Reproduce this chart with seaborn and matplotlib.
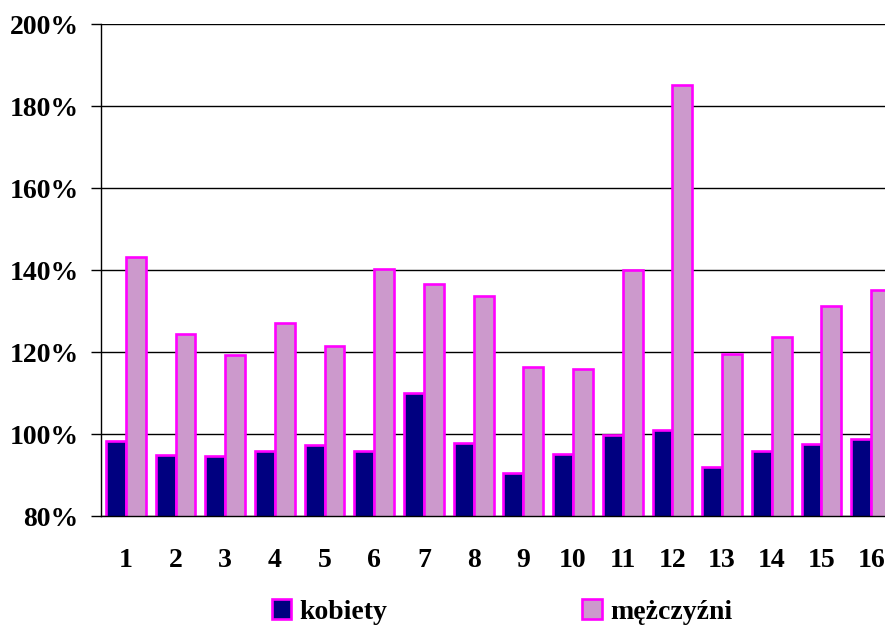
import numpy as np
import pandas as pd
import matplotlib
matplotlib.use('Agg')
import matplotlib.pyplot as plt
import seaborn as sns
from matplotlib.ticker import FuncFormatter, FixedLocator

# category labels 1..16
categories = [str(i) for i in range(1, 17)]

# values, in percent
kobiety = [98.4, 94.8, 94.6, 95.8, 97.3, 95.9, 110.1, 97.9,
           90.6, 95.1, 99.8, 100.9, 92.0, 95.8, 97.5, 98.8]
mezczyzni = [143.1, 124.5, 119.2, 127.1, 121.5, 140.2, 136.5, 133.6,
             116.4, 115.9, 140.0, 185.1, 119.6, 123.7, 131.2, 135.1]

series_names = ['kobiety', 'mężczyźni']
y_ticks = [80, 100, 120, 140, 160, 180, 200]

# long table for seaborn
df = pd.DataFrame({
    'kat': categories * 2,
    'wartosc': kobiety + mezczyzni,
    'plec': [series_names[0]] * len(categories) + [series_names[1]] * len(categories),
})

sns.set_style('white')
plt.rcParams['font.family'] = ['Liberation Serif', 'DejaVu Serif']
plt.rcParams['font.weight'] = 'bold'
plt.rcParams['text.color'] = 'black'
plt.rcParams['xtick.labelcolor'] = 'black'
plt.rcParams['ytick.labelcolor'] = 'black'

fig = plt.figure(figsize=(8.85, 6.32), dpi=100)
# axes runs a bit past the right edge, like the original
ax = fig.add_axes([101 / 885, 116 / 632, 795 / 885, 492 / 632])

sns.barplot(data=df, x='kat', y='wartosc', hue='plec', order=categories,
            hue_order=series_names, palette=['#000080', '#CC99CC'],
            width=0.8, gap=0, edgecolor='#FF00FF', linewidth=1.9,
            saturation=1, errorbar=None, ax=ax)

ax.set_ylim(80, 200)
ax.set_xlim(-0.5, 15.5)
ax.set_yticks(y_ticks)
ax.yaxis.set_major_formatter(FuncFormatter(lambda v, p: f'{v:.0f}%'))
ax.set_xlabel('')
ax.set_ylabel('')

# grid lines behind bars
ax.set_axisbelow(True)
ax.yaxis.grid(True, color='black', linewidth=1.0)
ax.xaxis.grid(False)

for s in ['top', 'right']:
    ax.spines[s].set_visible(False)
for s in ['left', 'bottom']:
    ax.spines[s].set_color('black')
    ax.spines[s].set_linewidth(1.0)

# tick marks between categories, labels at centers
ax.xaxis.set_minor_locator(FixedLocator(np.arange(-0.5, 16, 1.0)))
ax.tick_params(axis='x', which='major', length=0, pad=23, labelsize=20, labelcolor='black')
ax.tick_params(axis='x', which='minor', length=7, width=1, color='#444444', direction='out')
ax.tick_params(axis='y', which='major', length=7, width=1, color='black',
               direction='out', pad=9, labelsize=20, left=True, labelcolor='black')
for lab in ax.get_xticklabels() + ax.get_yticklabels():
    lab.set_fontweight('bold')

# legend under the chart
handles, labels = ax.get_legend_handles_labels()
leg = ax.legend(handles, labels, loc='center', bbox_to_anchor=(0.5044, -0.195), ncol=2,
                frameon=False, handlelength=0.7, handleheight=0.7,
                handletextpad=0.3, columnspacing=7.0, prop={'weight': 'bold', 'size': 20})
for t in leg.get_texts():
    t.set_color('black')

fig.savefig('out.png', dpi=100)
plt.close()
